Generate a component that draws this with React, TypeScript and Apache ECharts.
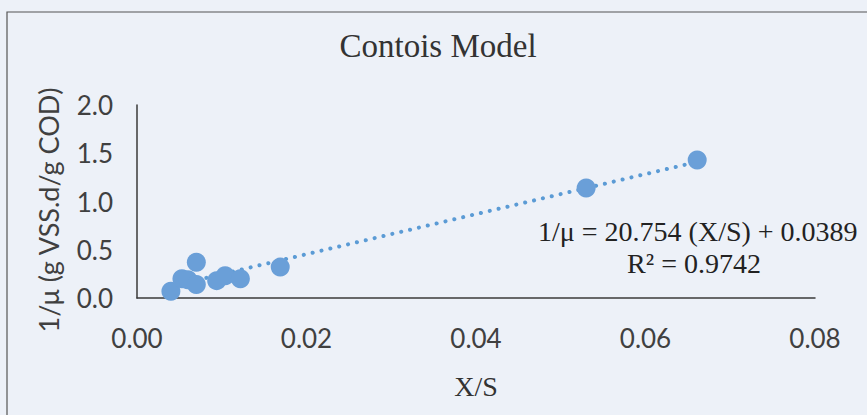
import React, { useEffect, useRef } from "react";
import * as echarts from "echarts";

const xsValues = [0.004, 0.0053, 0.006, 0.007, 0.007, 0.0094, 0.0104, 0.0122, 0.0169, 0.053, 0.0661];
const ysValues = [0.07, 0.2, 0.19, 0.37, 0.14, 0.18, 0.23, 0.2, 0.32, 1.14, 1.43];
const slope = 20.754;
const intercept = 0.0389;
const xTicks = [0, 0.02, 0.04, 0.06, 0.08];
const yTicks = [0, 0.5, 1.0, 1.5, 2.0];

export default function App() {
  const ref = useRef<HTMLDivElement>(null);
  useEffect(() => {
    document.body.style.margin = "0";
    document.body.style.background = "#edf1f8";
    const chart = echarts.init(ref.current!, null, { renderer: "svg" });
    const xmin = Math.min(...xsValues);
    const xmax = Math.max(...xsValues);
    const trend = [
      [xmin, slope * xmin + intercept],
      [xmax, slope * xmax + intercept],
    ];
    chart.setOption({
      animation: false,
      backgroundColor: "#edf1f8",
      title: {
        text: "Contois Model",
        left: 433,
        top: 24,
        textAlign: "center",
        textStyle: { fontFamily: "Liberation Serif", fontSize: 33, fontWeight: "normal", color: "#333" },
      },
      grid: { left: 137, right: 52, top: 105, bottom: 117 },
      xAxis: {
        type: "value",
        min: xTicks[0],
        max: xTicks[xTicks.length - 1],
        interval: 0.02,
        name: "X/S",
        nameLocation: "middle",
        nameGap: 74,
        nameTextStyle: { fontFamily: "Liberation Serif", fontSize: 28, color: "#333" },
        axisLine: { lineStyle: { color: "#3a3a3a", width: 1.5 } },
        axisTick: { show: false },
        splitLine: { show: false },
        axisLabel: {
          margin: 27,
          fontFamily: "Lato",
          fontSize: 26,
          color: "#404040",
          formatter: (v: number) => v.toFixed(2),
        },
      },
      yAxis: {
        type: "value",
        min: yTicks[0],
        max: yTicks[yTicks.length - 1],
        interval: 0.5,
        axisLine: { show: true, lineStyle: { color: "#3a3a3a", width: 1.5 } },
        axisTick: { show: false },
        splitLine: { show: false },
        axisLabel: {
          margin: 24,
          fontFamily: "Lato",
          fontSize: 26,
          color: "#404040",
          formatter: (v: number) => v.toFixed(1),
        },
      },
      graphic: [
        {
          type: "rect",
          shape: { x: 7, y: 12, width: 900, height: 450 },
          style: { fill: "none", stroke: "#555", lineWidth: 1.2 },
          silent: true,
        },
        {
          type: "text",
          x: 48,
          y: 210,
          rotation: Math.PI / 2,
          style: {
            text: "1/μ (g VSS.d/g COD)",
            font: "27px Lato",
            fill: "#404040",
            align: "center",
            verticalAlign: "middle",
          },
        },
        {
          type: "text",
          x: 538,
          y: 231,
          style: {
            text: "1/μ = 20.754 (X/S) + 0.0389",
            font: "28px 'Liberation Serif'",
            fill: "#222",
            verticalAlign: "middle",
          },
        },
        {
          type: "text",
          x: 694,
          y: 263,
          style: {
            text: "R² = 0.9742",
            font: "28px 'Liberation Serif'",
            fill: "#222",
            align: "center",
            verticalAlign: "middle",
          },
        },
      ],
      series: [
        {
          type: "line",
          data: trend,
          symbol: "none",
          lineStyle: { color: "#5b9bd5", width: 4, type: [0.1, 9], cap: "round" },
          z: 1,
        },
        {
          type: "scatter",
          data: xsValues.map((x, i) => [x, ysValues[i]]),
          symbolSize: 19,
          itemStyle: { color: "#6a9fd8", opacity: 1 },
          z: 2,
        },
      ],
    });
    return () => chart.dispose();
  }, []);
  return <div ref={ref} style={{ width: 867, height: 415 }} />;
}
